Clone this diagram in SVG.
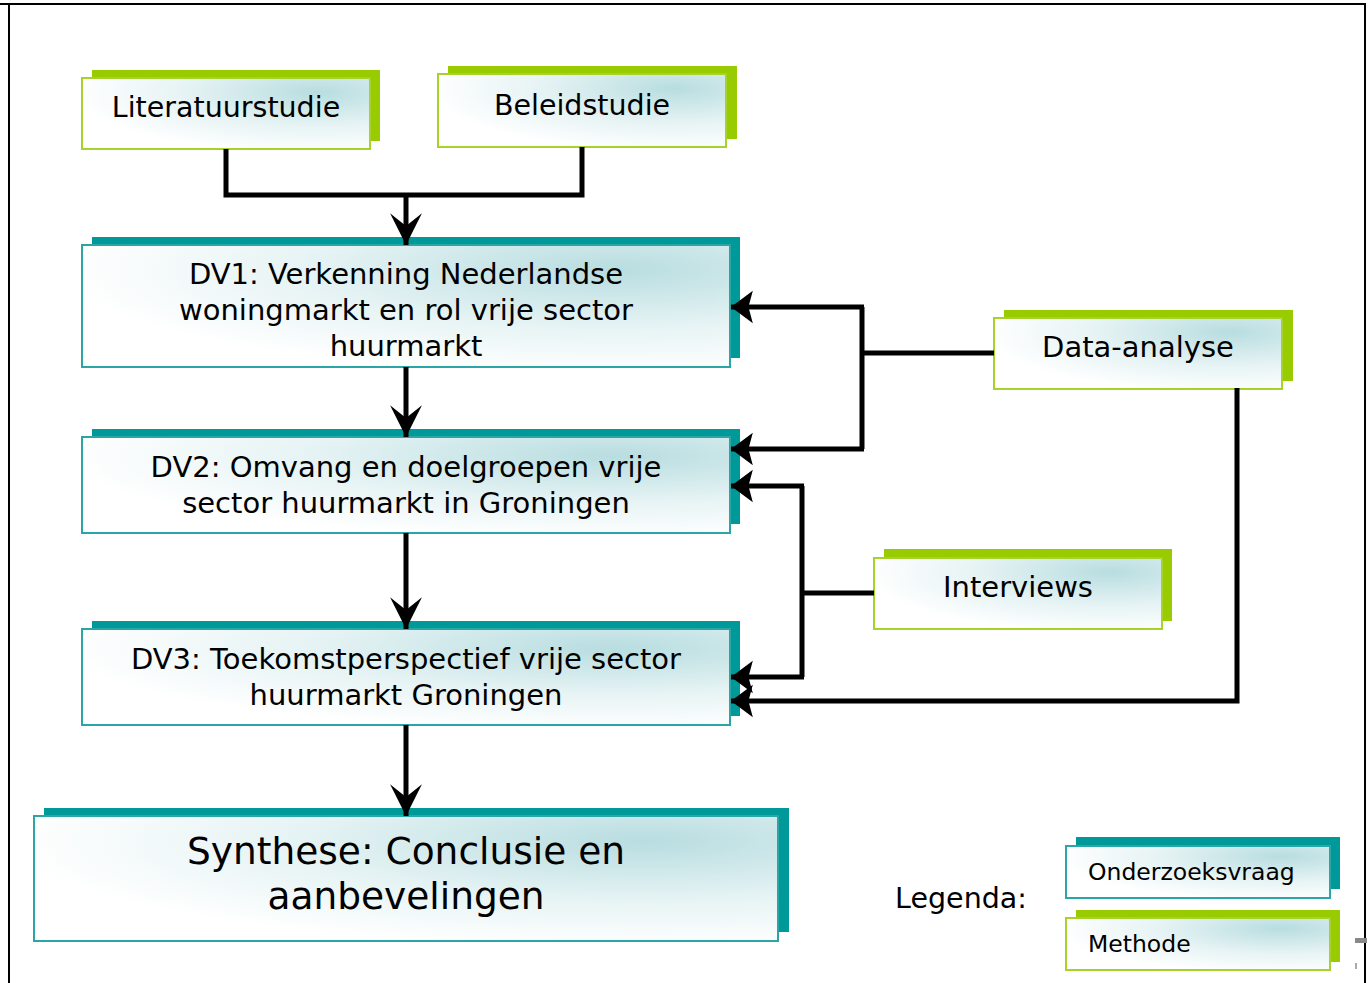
<svg xmlns="http://www.w3.org/2000/svg" width="1371" height="983" viewBox="0 0 1371 983">
<style>
.t{font-family:"DejaVu Sans","Verdana",sans-serif;fill:#000;text-anchor:middle}
.gs{fill:#99cc00}
.ts{fill:#009999}
.gf{fill:url(#bg);stroke:#a6d22a;stroke-width:2}
.tf{fill:url(#bg);stroke:#2aa6a6;stroke-width:2}
.c{fill:none;stroke:#000;stroke-width:5}
</style>
<defs>
<radialGradient id="bg" cx="0.82" cy="0.2" r="0.85" fx="0.82" fy="0.2">
<stop offset="0" stop-color="#b8dde0"/>
<stop offset="0.55" stop-color="#e6f3f4"/>
<stop offset="1" stop-color="#ffffff"/>
</radialGradient>
<marker id="ah" markerUnits="userSpaceOnUse" markerWidth="34" markerHeight="34" refX="30" refY="15" orient="auto" viewBox="0 0 32 30">
<path d="M30,15 L0,0 L12,15 L0,30 Z" fill="#000"/>
</marker>
<marker id="as" markerUnits="userSpaceOnUse" markerWidth="24" markerHeight="34" refX="20" refY="15" orient="auto" viewBox="0 0 22 30">
<path d="M20,15 L0,0 L4,15 L0,30 Z" fill="#000"/>
</marker>
</defs>
<rect width="1371" height="983" fill="#fff"/>
<g id="frame" fill="none" stroke="#000" stroke-width="2">
<path d="M0,4 H1365 V983"/>
<path d="M9,4 V983"/>
</g>
<rect x="1355" y="938" width="12" height="5" fill="#888"/>
<rect x="1355" y="963" width="2" height="6" fill="#aaa"/>

<g id="literatuurstudie">
<rect class="gs" x="92" y="70" width="288" height="71"/>
<rect class="gf" x="82" y="78" width="288" height="71"/>
<text class="t" x="226" y="117" font-size="28.5">Literatuurstudie</text>
</g>
<g id="beleidstudie">
<rect class="gs" x="448" y="66" width="289" height="73"/>
<rect class="gf" x="438" y="74" width="288" height="73"/>
<text class="t" x="582" y="115" font-size="28.5">Beleidstudie</text>
</g>
<g id="dv1">
<rect class="ts" x="92" y="237" width="648" height="121"/>
<rect class="tf" x="82" y="245" width="648" height="122"/>
<text class="t" x="406" y="284" font-size="29">DV1: Verkenning Nederlandse</text>
<text class="t" x="406" y="320" font-size="29">woningmarkt en rol vrije sector</text>
<text class="t" x="406" y="356" font-size="29">huurmarkt</text>
</g>
<g id="dv2">
<rect class="ts" x="92" y="429" width="648" height="95"/>
<rect class="tf" x="82" y="437" width="648" height="96"/>
<text class="t" x="406" y="477" font-size="29">DV2: Omvang en doelgroepen vrije</text>
<text class="t" x="406" y="513" font-size="29">sector huurmarkt in Groningen</text>
</g>
<g id="dv3">
<rect class="ts" x="92" y="621" width="648" height="95"/>
<rect class="tf" x="82" y="629" width="648" height="96"/>
<text class="t" x="406" y="669" font-size="29">DV3: Toekomstperspectief vrije sector</text>
<text class="t" x="406" y="705" font-size="29">huurmarkt Groningen</text>
</g>
<g id="synthese">
<rect class="ts" x="44" y="808" width="745" height="124"/>
<rect class="tf" x="34" y="816" width="744" height="125"/>
<text class="t" x="406" y="864" font-size="37.5">Synthese: Conclusie en</text>
<text class="t" x="406" y="909" font-size="37.5">aanbevelingen</text>
</g>
<g id="data-analyse">
<rect class="gs" x="1004" y="310" width="289" height="71"/>
<rect class="gf" x="994" y="318" width="288" height="71"/>
<text class="t" x="1138" y="357" font-size="29">Data-analyse</text>
</g>
<g id="interviews">
<rect class="gs" x="884" y="549" width="288" height="72"/>
<rect class="gf" x="874" y="558" width="288" height="71"/>
<text class="t" x="1018" y="597" font-size="29">Interviews</text>
</g>
<g id="legenda">
<text class="t" x="961" y="908" font-size="28.5">Legenda:</text>
<rect class="ts" x="1076" y="837" width="264" height="52"/>
<rect class="tf" x="1066" y="846" width="264" height="52"/>
<text class="t" x="1088" y="880" font-size="23.5" style="text-anchor:start">Onderzoeksvraag</text>
<rect class="gs" x="1076" y="910" width="264" height="52"/>
<rect class="gf" x="1066" y="918" width="264" height="52"/>
<text class="t" x="1088" y="952" font-size="23.5" style="text-anchor:start">Methode</text>
</g>

<g id="connectors">
<path class="c" d="M226,149 V195 H582 V147"/>
<path class="c" d="M406,195 V245" marker-end="url(#ah)"/>
<path class="c" d="M406,367 V437" marker-end="url(#ah)"/>
<path class="c" d="M406,533 V629" marker-end="url(#ah)"/>
<path class="c" d="M406,725 V816" marker-end="url(#ah)"/>
<path class="c" d="M994,353 H862"/>
<path class="c" d="M862,307 V449"/>
<path class="c" d="M864,307 H731" marker-end="url(#as)"/>
<path class="c" d="M864,449 H731" marker-end="url(#as)"/>
<path class="c" d="M874,593 H802"/>
<path class="c" d="M802,486 V677"/>
<path class="c" d="M804,486 H731" marker-end="url(#as)"/>
<path class="c" d="M804,677 H731" marker-end="url(#as)"/>
<path class="c" d="M1237,388 V701 H731" marker-end="url(#as)"/>
</g>
</svg>
